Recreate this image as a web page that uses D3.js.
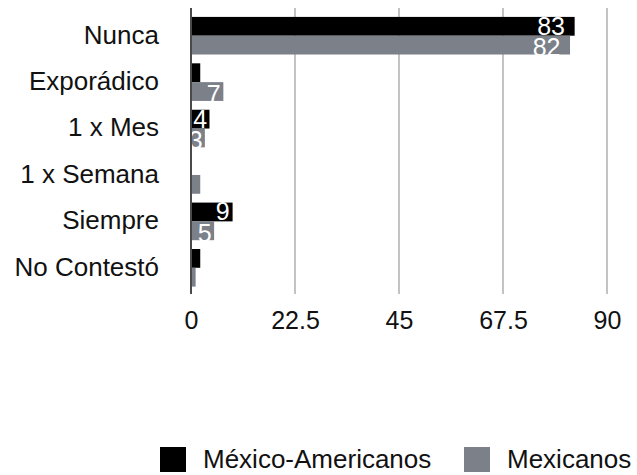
<!DOCTYPE html>
<html>
<head>
<meta charset="utf-8">
<title>Frecuencia</title>
<script src="https://cdn.jsdelivr.net/npm/d3@7"></script>
<style>
  body { margin: 0; background: #fff; }
  text { font-family: "Liberation Sans", Arial, Helvetica, sans-serif; }
</style>
</head>
<body>
<script>
  // data
  var categories = ["Nunca", "Exporádico", "1 x Mes", "1 x Semana", "Siempre", "No Contestó"];
  var seriesNames = ["México-Americanos", "Mexicanos"];
  var mexAmericanos = [83, 2, 4, 0, 9, 2];
  var mexicanos = [82, 7, 3, 2, 5, 1];
  var tickValues = [0, 22.5, 45, 67.5, 90];
  var colors = ["#000000", "#7b8089"];

  var width = 637, height = 475;

  var svg = d3.select("body").append("svg")
      .attr("width", width)
      .attr("height", height);

  // scales
  var x = d3.scaleLinear().domain([0, 90]).range([191, 607]);
  var y = d3.scaleBand().domain(categories).range([12.5, 291]).paddingInner(0.19).paddingOuter(0.095);
  var ySub = d3.scaleBand().domain(seriesNames).range([0, y.bandwidth()]);

  // gridlines
  svg.append("g").selectAll("line")
      .data(tickValues.slice(1))
      .enter().append("line")
      .attr("x1", function(d) { return x(d); })
      .attr("x2", function(d) { return x(d); })
      .attr("y1", 8)
      .attr("y2", 294)
      .attr("stroke", "#c3c3c3")
      .attr("stroke-width", 2);

  // bars
  var series = [mexAmericanos, mexicanos];
  series.forEach(function(vals, si) {
    var g = svg.append("g");
    g.selectAll("rect")
      .data(vals)
      .enter().append("rect")
      .attr("x", x(0))
      .attr("y", function(d, i) { return y(categories[i]) + ySub(seriesNames[si]); })
      .attr("width", function(d) { return x(d) - x(0); })
      .attr("height", ySub.bandwidth())
      .attr("fill", colors[si]);

    // white value labels inside the bar end (too-small bars get none)
    g.selectAll("text")
      .data(vals.map(function(v, i) { return {v: v, i: i}; }).filter(function(d) { return d.v >= 3; }))
      .enter().append("text")
      .attr("x", function(d) { return x(d.v) - 2 - (x(d.v) - x(0)) * 0.02; })
      .attr("y", function(d) { return y(categories[d.i]) + ySub(seriesNames[si]) + ySub.bandwidth() / 2; })
      .attr("dy", si === 0 ? "0.34em" : "0.45em")
      .attr("text-anchor", "end")
      .attr("font-size", "25px")
      .attr("fill", "#fff")
      .text(function(d) { return d.v; });
  });

  // axis line on the left
  svg.append("line")
      .attr("x1", x(0)).attr("x2", x(0))
      .attr("y1", 8).attr("y2", 294)
      .attr("stroke", "#4a4a4a")
      .attr("stroke-width", 2);

  // category labels
  svg.append("g").selectAll("text")
      .data(categories)
      .enter().append("text")
      .attr("x", 159)
      .attr("y", function(d) { return y(d) + y.bandwidth() / 2; })
      .attr("dy", "0.3em")
      .attr("text-anchor", "end")
      .attr("font-size", "26px")
      .attr("fill", "#111")
      .text(function(d) { return d; });

  // x axis tick labels
  var xAxis = d3.axisBottom(x).tickValues(tickValues).tickSize(0).tickPadding(0)
      .tickFormat(function(d) { return d; });
  var ax = svg.append("g")
      .attr("transform", "translate(0,329)")
      .call(xAxis);
  ax.select(".domain").remove();
  ax.selectAll("text")
      .attr("dy", 0)
      .attr("y", 0)
      .attr("font-size", "25px")
      .attr("font-family", "Liberation Sans, Arial, sans-serif")
      .attr("fill", "#111");

  // legend
  var legendX = [160, 464];
  var legend = svg.append("g").selectAll("g")
      .data(seriesNames)
      .enter().append("g")
      .attr("transform", function(d, i) { return "translate(" + legendX[i] + ",447)"; });
  legend.append("rect")
      .attr("width", 26).attr("height", 25)
      .attr("fill", function(d, i) { return colors[i]; });
  legend.append("text")
      .attr("x", 43)
      .attr("y", 21)
      .attr("font-size", "26px")
      .attr("fill", "#111")
      .text(function(d) { return d; });
</script>
</body>
</html>
